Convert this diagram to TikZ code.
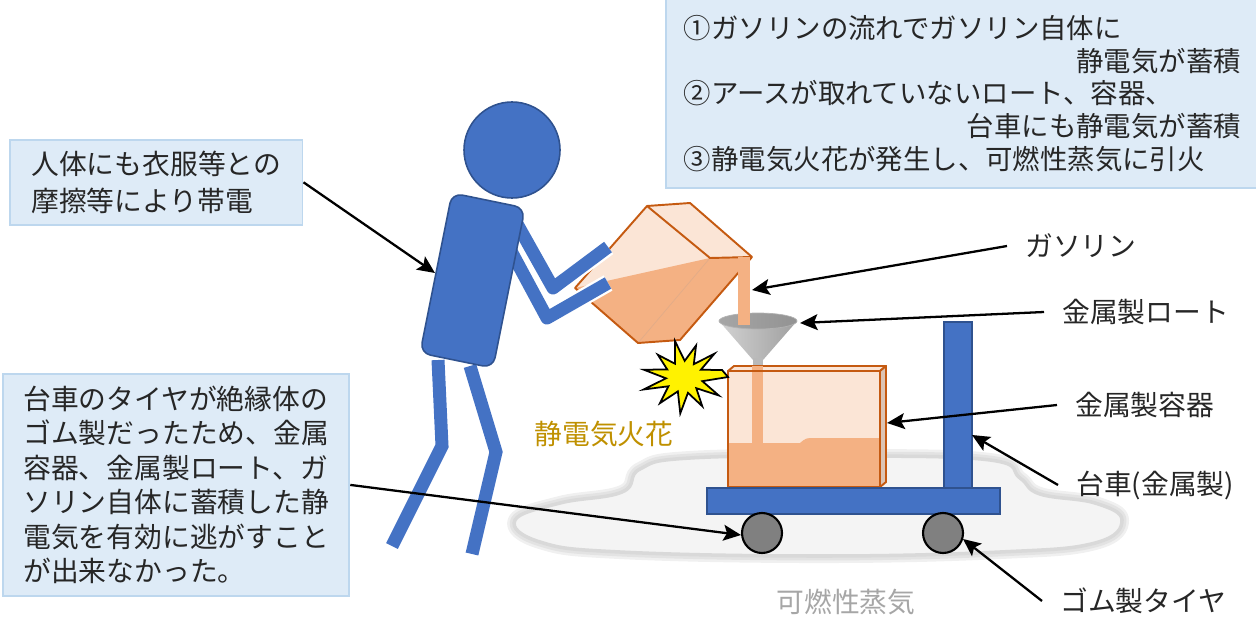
\documentclass[tikz,border=0pt]{standalone}
\usepackage{fontspec}
\setmainfont{Noto Sans CJK JP}
\usepackage{tikz}
\usetikzlibrary{arrows.meta}

\definecolor{bodyblue}{RGB}{68,114,196}
\definecolor{edgeblue}{RGB}{47,82,143}
\definecolor{boxfill}{RGB}{222,235,247}
\definecolor{boxline}{RGB}{189,215,238}
\definecolor{fuel}{RGB}{244,177,131}
\definecolor{fuellight}{RGB}{251,229,214}
\definecolor{rust}{RGB}{197,90,17}
\definecolor{sparkgold}{RGB}{191,144,0}
\definecolor{vaporgray}{RGB}{166,166,166}
\definecolor{tiregray}{RGB}{128,128,128}
\definecolor{ink}{RGB}{38,38,38}

\newcommand\stepjp{\fontsize{15.6}{18.7}\selectfont}
\newcommand\bubblejp{\fontsize{15.8}{21}\selectfont}
\newcommand\causejp{\fontsize{15.8}{19.6}\selectfont}
\newcommand\partjp{\fontsize{15.8}{19}\selectfont}

\begin{document}
\begin{tikzpicture}[x=0.02cm,y=-0.02cm,
    notebox/.style={draw=boxline,fill=boxfill,line width=1.1pt,text=ink,align=left,anchor=north west},
    partlabel/.style={text=ink,font=\partjp,inner xsep=0.36cm,anchor=west},
    pointer/.style={draw=black,line width=1.3pt,-{Stealth[length=10pt,width=9pt,inset=2pt]}},
    person/.style={fill=bodyblue,draw=edgeblue,line width=0.9pt},
    limb/.style={draw=bodyblue,line width=7.4pt},
    tankline/.style={draw=rust,line width=1.1pt,line join=round}]
  \useasboundingbox (0,0) rectangle (1256,618);

  % vapour cloud under the cart, soft grey rim
  \def\cloudpath{plot[smooth cycle,tension=0.7] coordinates {(515,520) (560,503) (622,492) (640,469)
      (690,458) (850,456) (990,460) (1020,478) (1040,494) (1095,503) (1122,520)
      (1095,543) (1000,552) (820,556) (620,552) (540,542)}}
  \draw[gray!12,line width=8pt,line join=round] \cloudpath;
  \draw[gray!22,line width=5pt,line join=round] \cloudpath;
  \filldraw[draw=gray!30,fill=gray!9,line width=2pt] \cloudpath;

  % can being tipped over
  \coordinate (bL) at (575,288);
  \coordinate (bT) at (647,206);
  \coordinate (bTR) at (690,203);
  \coordinate (bR) at (752,257);
  \coordinate (bIn) at (710,258);
  \coordinate (bBR) at (680,340);
  \coordinate (bB) at (638,343);
  \fill[fuellight] (bL) -- (bT) -- (bTR) -- (bR) -- (bBR) -- (bB) -- cycle;
  \fill[fuel] (bL) -- (bIn) -- (bR) -- (bBR) -- (bB) -- cycle;
  \draw[rust!50,line width=0.4pt] (bIn) -- (bB);
  \draw[tankline] (bL) -- (bT) -- (bTR) -- (bR) -- (bBR) -- (bB) -- cycle;
  \draw[tankline] (bT) -- (bIn) -- (bR);

  % the man
  \draw[limb] (438,360) -- (442,446) -- (392,546);
  \draw[limb] (470,366) -- (496,452) -- (472,554);
  \draw[white,line width=10pt,line join=round] (512,215) -- (553,288) -- (608,247);
  \draw[limb,line join=round] (512,215) -- (553,288) -- (608,247);
  \draw[white,line width=10pt,line join=round] (505,240) -- (547,318) -- (608,283);
  \draw[limb,line join=round] (505,240) -- (547,318) -- (608,283);
  \filldraw[person,rounded corners=6pt] (452,193) -- (525,208) -- (493,368) -- (420,353) -- cycle;
  \filldraw[person] (512,150) circle[radius=48];

  % funnel and the stream of petrol
  \shade[left color=gray!35,right color=gray!75] (719,321) -- (753,360) -- (763,360) -- (797,321) -- cycle;
  \shade[left color=gray!70,right color=gray!85,draw=gray!60,line width=0.4pt] (758,321) ellipse[x radius=39,y radius=8];
  \fill[gray!55] (753,358) rectangle (763,368);
  \fill[fuel] (738,257) rectangle (750,325);

  % metal container on the cart
  \fill[fuellight] (728,371) rectangle (880,487);
  \fill[fuel] (728,443) -- (800,443) .. controls (806,438) .. (815,438) -- (880,438) -- (880,487) -- (728,487) -- cycle;
  \filldraw[tankline,fill=fuellight] (728,371) -- (734,366) -- (886,366) -- (880,371) -- cycle;
  \fill[fuel] (752,366) rectangle (763,443);
  \filldraw[tankline,fill=fuel!60!gray!60] (880,371) -- (886,366) -- (886,482) -- (880,487) -- cycle;
  \draw[tankline] (728,371) rectangle (880,487);

  % cart and wheels
  \filldraw[person] (944,322) rectangle (972,488);
  \filldraw[person] (707,488) rectangle (1000,514);
  \filldraw[fill=tiregray,draw=black,line width=1.2pt] (762,533) circle[radius=20];
  \filldraw[fill=tiregray,draw=black,line width=1.2pt] (943,533) circle[radius=20];

  % spark
  \begin{scope}[shift={(684,377)},yscale=0.85]
    \filldraw[fill=yellow,draw=black,line width=1pt,line join=miter] (0:44)
      \foreach \a/\r in {15/19,32/41,47/18,62/39,78/19,95/43,110/18,128/39,145/19,160/43,
        175/18,192/41,208/19,225/37,240/18,258/43,272/19,288/39,303/18,318/41,333/19,348/39}
      { -- (\a:\r) } -- cycle;
  \end{scope}

  % text
  \node[notebox,font=\stepjp,text width=11.14cm,inner xsep=0.36cm,inner ysep=0.32cm] (steps) at (665,-2)
    {①ガソリンの流れでガソリン自体に\\
     \hfill 静電気が蓄積\\
     ②アースが取れていないロート、容器、\\
     \hfill 台車にも静電気が蓄積\\
     ③静電気火花が発生し、可燃性蒸気に引火};
  \node[notebox,font=\bubblejp,inner xsep=0.43cm,inner ysep=0.22cm] (charge) at (9,139)
    {人体にも衣服等との\\摩擦等により帯電};
  \node[notebox,font=\causejp,inner xsep=0.41cm,inner ysep=0.24cm] (cause) at (2,373)
    {台車のタイヤが絶縁体の\\
     ゴム製だったため、金属\\
     容器、金属製ロート、ガ\\
     ソリン自体に蓄積した静\\
     電気を有効に逃がすこと\\
     が出来なかった。};
  \node[font=\partjp,text=sparkgold] (sparklbl) at (604,434) {静電気火花};
  \node[font=\partjp,text=vaporgray] (vaporlbl) at (846,602) {可燃性蒸気};

  \node[partlabel] (gaslbl) at (1007,246) {ガソリン};
  \node[partlabel] (funnellbl) at (1044,312) {金属製ロート};
  \node[partlabel] (canlbl) at (1057,405) {金属製容器};
  \node[partlabel] (cartlbl) at (1058,485) {台車(金属製)};
  \node[partlabel] (tirelbl) at (1042,601) {ゴム製タイヤ};

  % arrow ends
  \coordinate (bodypt) at (435,273);
  \coordinate (streampt) at (752,290);
  \coordinate (funnelpt) at (800,323);
  \coordinate (canpt) at (887,423);
  \coordinate (postpt) at (972,435);
  \coordinate (tirept) at (963,539);
  \coordinate (wheelpt) at (741,535);

  \draw[pointer] (charge.east) -- (bodypt);
  \draw[pointer] (cause.east) -- (wheelpt);
  \draw[pointer] (gaslbl.west) -- (streampt);
  \draw[pointer] (funnellbl.west) -- (funnelpt);
  \draw[pointer] (canlbl.west) -- (canpt);
  \draw[pointer] (cartlbl.west) -- (postpt);
  \draw[pointer] (tirelbl.west) -- (tirept);
\end{tikzpicture}
\end{document}
